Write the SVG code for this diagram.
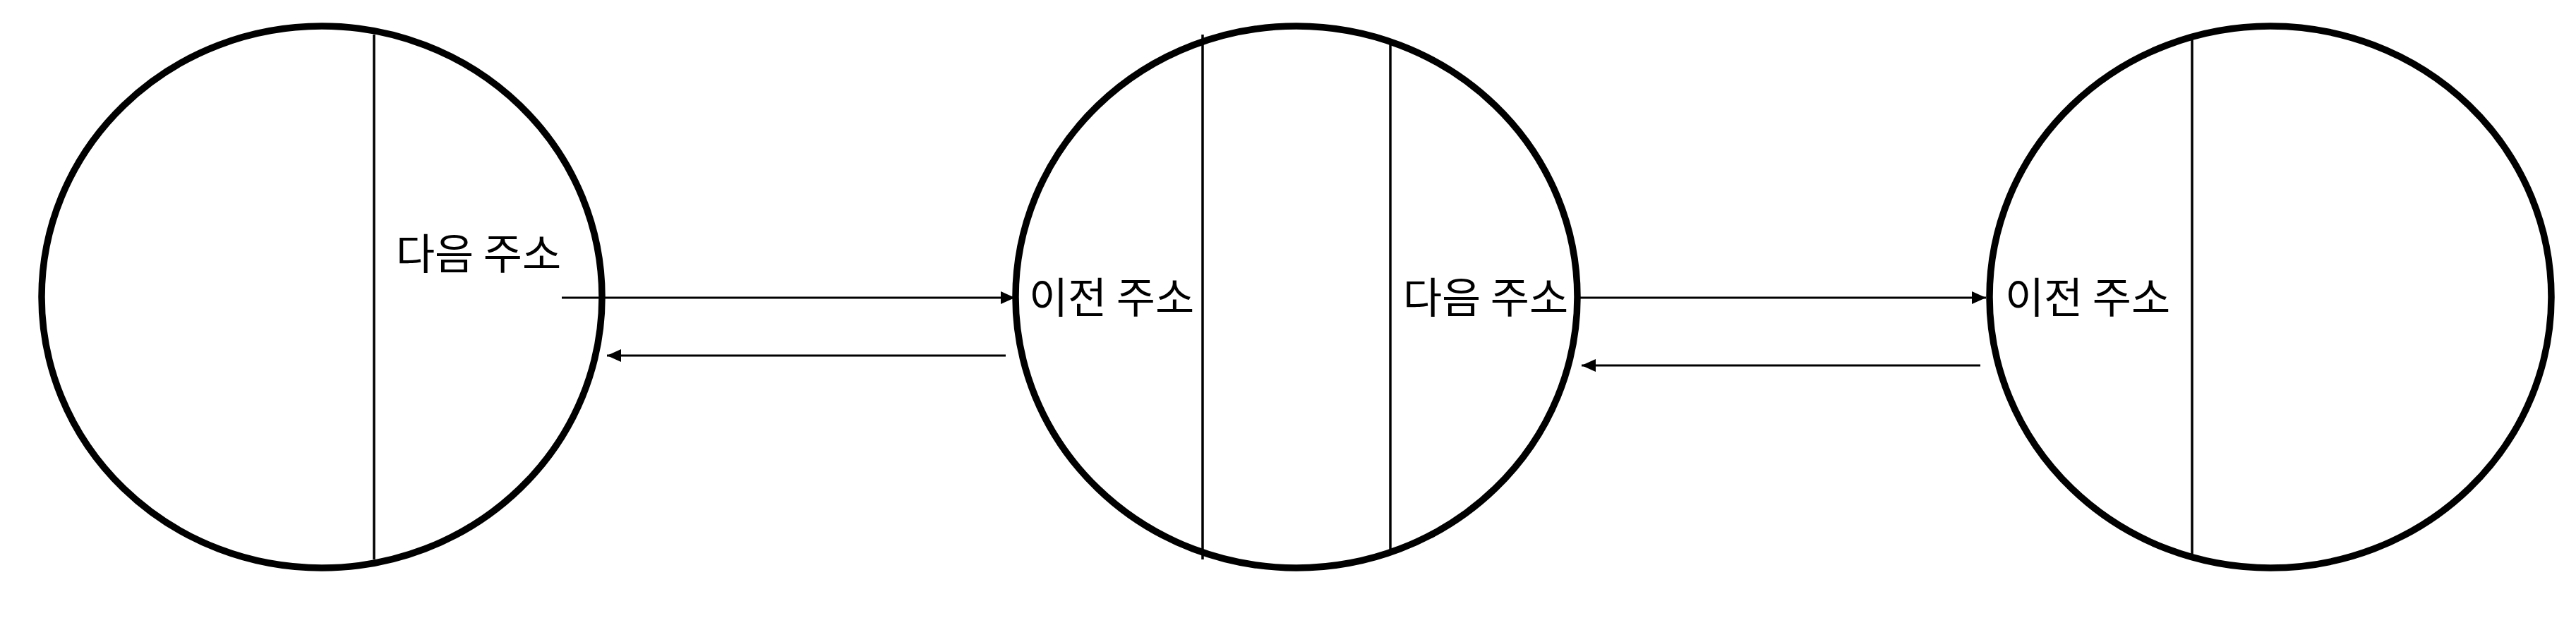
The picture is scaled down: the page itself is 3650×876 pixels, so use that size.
<svg xmlns="http://www.w3.org/2000/svg" width="3650" height="876" viewBox="0 0 3650 876">
<defs>
<style>
.node{fill:none;stroke:#000;stroke-width:9.5}
.div{stroke:#000;stroke-width:3.5;fill:none}
.lbl{font-family:"Noto Sans CJK KR","Liberation Sans",sans-serif;font-size:60px;fill:#000;text-anchor:middle}
.conn{stroke:#000;stroke-width:3;fill:none;marker-end:url(#ah)}
</style>
<marker id="ah" viewBox="0 0 20 18" refX="20" refY="9" markerWidth="20" markerHeight="18" markerUnits="userSpaceOnUse" orient="auto">
<path d="M0,0 L20,9 L0,18 Z" fill="#000"/>
</marker>
</defs>
<rect width="3650" height="876" fill="#fff"/>
<g id="node1">
<ellipse class="node" cx="456" cy="421" rx="397" ry="384"/>
<line class="div" x1="530" y1="49" x2="530" y2="793"/>
<text class="lbl" x="678" y="382">다음 주소</text>
</g>
<g id="node2">
<ellipse class="node" cx="1837" cy="421" rx="398" ry="384"/>
<line class="div" x1="1704" y1="49" x2="1704" y2="793"/>
<line class="div" x1="1970" y1="63" x2="1970" y2="779"/>
<text class="lbl" x="1575" y="444">이전 주소</text>
<text class="lbl" x="2105" y="444">다음 주소</text>
</g>
<g id="node3">
<ellipse class="node" cx="3217" cy="421" rx="398" ry="384"/>
<line class="div" x1="3106" y1="56" x2="3106" y2="787"/>
<text class="lbl" x="2958" y="444">이전 주소</text>
</g>
<g id="connectors">
<line class="conn" x1="796" y1="422" x2="1438" y2="422"/>
<line class="conn" x1="1425" y1="504" x2="860" y2="504"/>
<line class="conn" x1="2239" y1="422" x2="2814" y2="422"/>
<line class="conn" x1="2806" y1="518" x2="2241" y2="518"/>
</g>
</svg>
